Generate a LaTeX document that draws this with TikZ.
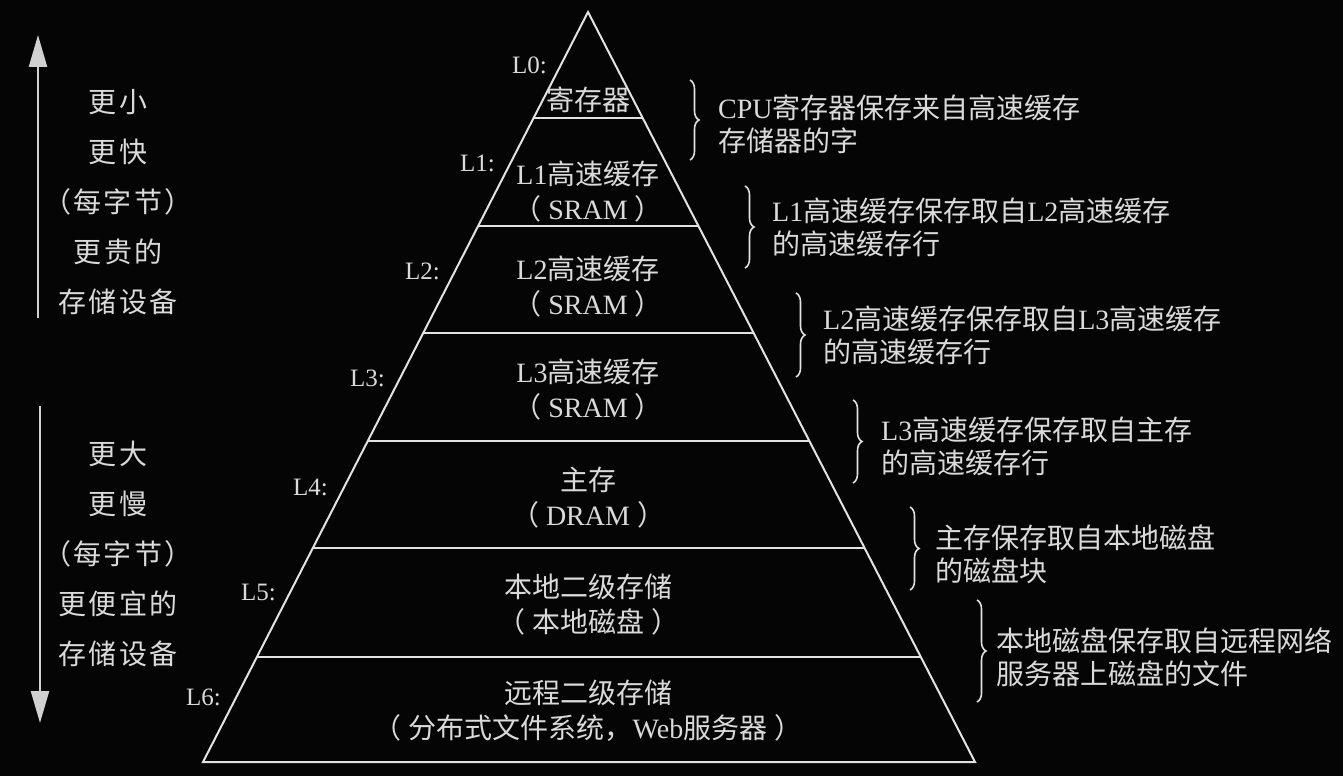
\documentclass[tikz,border=0pt]{standalone}
\usepackage{fontspec}
\setmainfont{Liberation Serif}
\newfontfamily\cjk{Noto Sans CJK SC}
\newfontfamily\cjkb[LetterSpace=8]{Noto Sans CJK SC}
\usetikzlibrary{calc,decorations.pathreplacing,arrows.meta}
\newcommand\zh[1]{{\cjk #1}}
\newcommand\sr[1]{\zh{（}\hspace{7pt}#1\hspace{7pt}\zh{）}}
\definecolor{ink}{HTML}{E2E2E2}
\definecolor{txt}{HTML}{DADADA}
\definecolor{bg}{HTML}{050505}
\tikzset{
  pyr/.style={draw=ink, line width=2pt},
  layertext/.style={text=txt, align=center, inner sep=0pt, font=\fontsize{28}{35}\selectfont},
  lvl/.style={text=txt, anchor=east, inner sep=0pt, font=\fontsize{25}{30}\selectfont},
  note/.style={text=txt, anchor=west, align=left, inner sep=0pt, font=\fontsize{28}{33}\selectfont},
  side/.style={text=txt, align=center, inner sep=0pt, font=\cjkb\fontsize{28}{50}\selectfont},
  bracestyle/.style={draw=ink, line width=1.6pt, decorate, decoration={brace, amplitude=9pt}},
  vert/.style={draw=txt!90!gray, line width=2.4pt, -{Triangle[length=32pt,width=18pt]}}
}
\begin{document}
\begin{tikzpicture}[x=1pt,y=-1pt]
\fill[bg] (0,0) rectangle (1343,776);
\useasboundingbox (0,0) rectangle (1343,776);

% pyramid
\coordinate (apex) at (588,12);
\coordinate (bl) at (203,762);
\coordinate (br) at (975,762);
\draw[pyr, line join=miter] (bl) -- (apex) -- (br) -- cycle;
\foreach \t in {0.1413,0.2853,0.428,0.572,0.7147,0.86}{
  \draw[pyr] ($(apex)!\t!(bl)$) -- ($(apex)!\t!(br)$);
}

% level labels
\node[lvl] (l0) at (547,65) {L0:};
\node[lvl] (l1) at (495,163) {L1:};
\node[lvl] (l2) at (440,271) {L2:};
\node[lvl] (l3) at (385,378) {L3:};
\node[lvl] (l4) at (328,487) {L4:};
\node[lvl] (l5) at (276,592) {L5:};
\node[lvl] (l6) at (221,697) {L6:};

% layer texts
\node[layertext] (t0) at (588,100) {\zh{寄存器}};
\node[layertext] (t1) at (588,192) {L1\zh{高速缓存}\\\sr{SRAM}};
\node[layertext] (t2) at (588,287) {L2\zh{高速缓存}\\\sr{SRAM}};
\node[layertext] (t3) at (588,390) {L3\zh{高速缓存}\\\sr{SRAM}};
\node[layertext] (t4) at (588,498) {\zh{主存}\\\sr{DRAM}};
\node[layertext] (t5) at (588,605) {\zh{本地二级存储}\\\sr{\zh{本地磁盘}}};
\node[layertext] (t6) at (588,711) {\zh{远程二级存储}\\\sr{\zh{分布式文件系统，}Web\zh{服务器}}};

% braces
\coordinate (b1a) at (690,80);  \coordinate (b1b) at (690,160);
\coordinate (b2a) at (745,186); \coordinate (b2b) at (745,268);
\coordinate (b3a) at (796,293); \coordinate (b3b) at (796,377);
\coordinate (b4a) at (853,400); \coordinate (b4b) at (853,483);
\coordinate (b5a) at (910,507); \coordinate (b5b) at (910,590);
\coordinate (b6a) at (977,600); \coordinate (b6b) at (977,702);
\foreach \i in {1,...,6}{ \draw[bracestyle] (b\i a) -- (b\i b); }

% notes
\node[note] (n1) at (718,124) {CPU\zh{寄存器保存来自高速缓存}\\\zh{存储器的字}};
\node[note] (n2) at (772,227) {L1\zh{高速缓存保存取自}L2\zh{高速缓存}\\\zh{的高速缓存行}};
\node[note] (n3) at (823,335) {L2\zh{高速缓存保存取自}L3\zh{高速缓存}\\\zh{的高速缓存行}};
\node[note] (n4) at (881,446) {L3\zh{高速缓存保存取自主存}\\\zh{的高速缓存行}};
\node[note] (n5) at (935,554) {\zh{主存保存取自本地磁盘}\\\zh{的磁盘块}};
\node[note] (n6) at (996,657) {\zh{本地磁盘保存取自远程网络}\\\zh{服务器上磁盘的文件}};

% left side
\coordinate (upS) at (38,318);
\coordinate (upE) at (38,35);
\coordinate (dnS) at (40,406);
\coordinate (dnE) at (40,723);
\draw[vert] (upS) -- (upE);
\draw[vert] (dnS) -- (dnE);
\node[side] (s1) at (118,202) {更小\\更快\\（每字节）\\更贵的\\存储设备};
\node[side] (s2) at (118,554) {更大\\更慢\\（每字节）\\更便宜的\\存储设备};
\end{tikzpicture}
\end{document}
